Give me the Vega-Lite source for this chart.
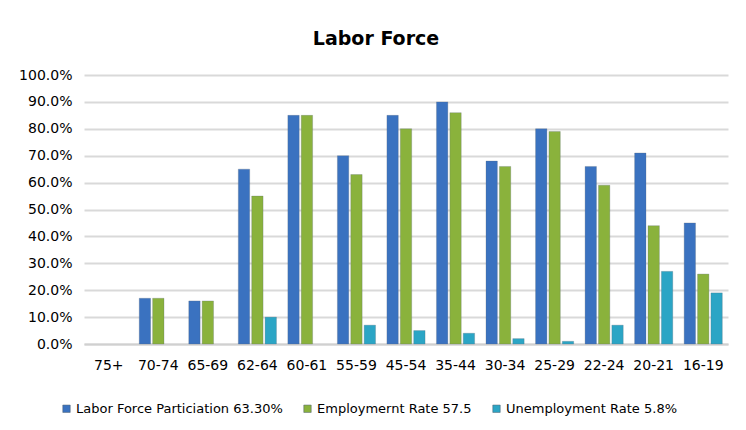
{
  "$schema": "https://vega.github.io/schema/vega-lite/v6.json",
  "width": 644,
  "height": 269,
  "autosize": "none",
  "padding": {"left": 84, "top": 75, "right": 18, "bottom": 86},
  "background": "white",
  "title": {"text": "Labor Force", "fontSize": 19, "font": "DejaVu Sans", "fontWeight": "bold", "color": "#000000", "anchor": "middle", "frame": "group", "dx": -30, "offset": 19},
  "config": {"view": {"stroke": null}, "font": "DejaVu Sans"},
  "data": {"values": [
    {"age": "75+", "series": "Labor Force Particiation 63.30%", "value": 0},
    {"age": "75+", "series": "Employmernt Rate 57.5", "value": 0},
    {"age": "75+", "series": "Unemployment Rate 5.8%", "value": 0},
    {"age": "70-74", "series": "Labor Force Particiation 63.30%", "value": 0.17},
    {"age": "70-74", "series": "Employmernt Rate 57.5", "value": 0.17},
    {"age": "70-74", "series": "Unemployment Rate 5.8%", "value": 0},
    {"age": "65-69", "series": "Labor Force Particiation 63.30%", "value": 0.16},
    {"age": "65-69", "series": "Employmernt Rate 57.5", "value": 0.16},
    {"age": "65-69", "series": "Unemployment Rate 5.8%", "value": 0},
    {"age": "62-64", "series": "Labor Force Particiation 63.30%", "value": 0.65},
    {"age": "62-64", "series": "Employmernt Rate 57.5", "value": 0.55},
    {"age": "62-64", "series": "Unemployment Rate 5.8%", "value": 0.10},
    {"age": "60-61", "series": "Labor Force Particiation 63.30%", "value": 0.85},
    {"age": "60-61", "series": "Employmernt Rate 57.5", "value": 0.85},
    {"age": "60-61", "series": "Unemployment Rate 5.8%", "value": 0},
    {"age": "55-59", "series": "Labor Force Particiation 63.30%", "value": 0.70},
    {"age": "55-59", "series": "Employmernt Rate 57.5", "value": 0.63},
    {"age": "55-59", "series": "Unemployment Rate 5.8%", "value": 0.07},
    {"age": "45-54", "series": "Labor Force Particiation 63.30%", "value": 0.85},
    {"age": "45-54", "series": "Employmernt Rate 57.5", "value": 0.80},
    {"age": "45-54", "series": "Unemployment Rate 5.8%", "value": 0.05},
    {"age": "35-44", "series": "Labor Force Particiation 63.30%", "value": 0.90},
    {"age": "35-44", "series": "Employmernt Rate 57.5", "value": 0.86},
    {"age": "35-44", "series": "Unemployment Rate 5.8%", "value": 0.04},
    {"age": "30-34", "series": "Labor Force Particiation 63.30%", "value": 0.68},
    {"age": "30-34", "series": "Employmernt Rate 57.5", "value": 0.66},
    {"age": "30-34", "series": "Unemployment Rate 5.8%", "value": 0.02},
    {"age": "25-29", "series": "Labor Force Particiation 63.30%", "value": 0.80},
    {"age": "25-29", "series": "Employmernt Rate 57.5", "value": 0.79},
    {"age": "25-29", "series": "Unemployment Rate 5.8%", "value": 0.01},
    {"age": "22-24", "series": "Labor Force Particiation 63.30%", "value": 0.66},
    {"age": "22-24", "series": "Employmernt Rate 57.5", "value": 0.59},
    {"age": "22-24", "series": "Unemployment Rate 5.8%", "value": 0.07},
    {"age": "20-21", "series": "Labor Force Particiation 63.30%", "value": 0.71},
    {"age": "20-21", "series": "Employmernt Rate 57.5", "value": 0.44},
    {"age": "20-21", "series": "Unemployment Rate 5.8%", "value": 0.27},
    {"age": "16-19", "series": "Labor Force Particiation 63.30%", "value": 0.45},
    {"age": "16-19", "series": "Employmernt Rate 57.5", "value": 0.26},
    {"age": "16-19", "series": "Unemployment Rate 5.8%", "value": 0.19}
  ]},
  "mark": {"type": "bar", "stroke": "#5a6a7a", "strokeWidth": 0.8},
  "encoding": {
    "x": {
      "field": "age", "type": "nominal", "sort": null,
      "scale": {"paddingInner": 0.23, "paddingOuter": 0.115},
      "axis": {"title": null, "labelAngle": 0, "labelFontSize": 14, "labelColor": "#000000", "labelPadding": 14, "ticks": false, "domainColor": "#d0d0d0", "domainWidth": 2, "grid": false}
    },
    "xOffset": {
      "field": "series", "type": "nominal", "sort": null,
      "scale": {"paddingInner": 0.15}
    },
    "y": {
      "field": "value", "type": "quantitative",
      "scale": {"domain": [0, 1]},
      "axis": {"title": null, "format": ".1%", "values": [0, 0.1, 0.2, 0.3, 0.4, 0.5, 0.6, 0.7, 0.8, 0.9, 1.0], "labelOverlap": false, "labelFontSize": 14, "labelColor": "#000000", "labelPadding": 12, "ticks": false, "domain": false, "gridColor": "#d9d9d9", "gridWidth": 2}
    },
    "strokeOpacity": {
      "condition": {"test": "datum.value > 0", "value": 0.35},
      "value": 0
    },
    "color": {
      "field": "series", "type": "nominal", "sort": null,
      "scale": {"domain": ["Labor Force Particiation 63.30%", "Employmernt Rate 57.5", "Unemployment Rate 5.8%"], "range": ["#3a72c0", "#8ab23c", "#2ba5c5"]},
      "legend": {"title": null, "orient": "none", "direction": "horizontal", "legendX": -24, "legendY": 327, "symbolType": "square", "symbolSize": 55, "symbolStrokeColor": "#4a5a6a", "symbolStrokeWidth": 0.5, "labelFontSize": 13, "labelLimit": 400, "labelColor": "#000000", "columnPadding": 18, "labelOffset": 3}
    }
  }
}
